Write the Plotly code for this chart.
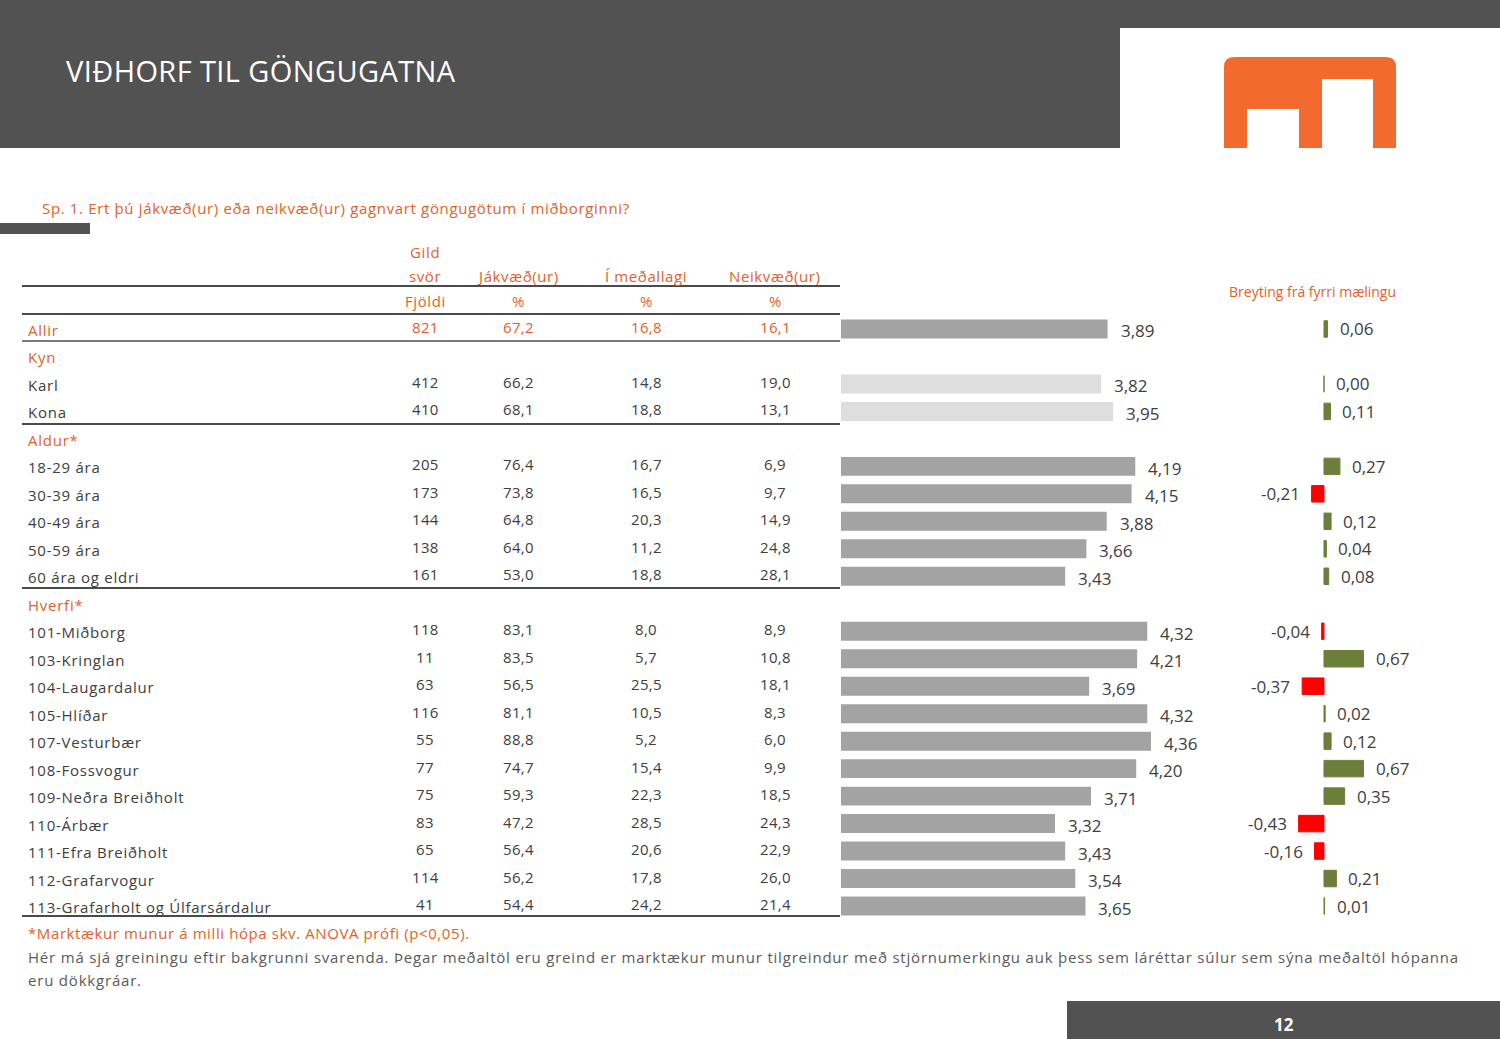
import plotly.graph_objects as go

# ---------------- data ----------------
rows = ["Allir", "Kyn", "Karl", "Kona", "Aldur*", "18-29 ára", "30-39 ára", "40-49 ára",
        "50-59 ára", "60 ára og eldri", "Hverfi*", "101-Miðborg", "103-Kringlan",
        "104-Laugardalur", "105-Hlíðar", "107-Vesturbær", "108-Fossvogur",
        "109-Neðra Breiðholt", "110-Árbær", "111-Efra Breiðholt", "112-Grafarvogur",
        "113-Grafarholt og Úlfarsárdalur"]
row_kind = ["total", "group", "ns", "ns", "group", "sig", "sig", "sig", "sig", "sig", "group",
            "sig", "sig", "sig", "sig", "sig", "sig", "sig", "sig", "sig", "sig", "sig"]
n_valid = [821, None, 412, 410, None, 205, 173, 144, 138, 161, None,
           118, 11, 63, 116, 55, 77, 75, 83, 65, 114, 41]
positive = [67.2, None, 66.2, 68.1, None, 76.4, 73.8, 64.8, 64.0, 53.0, None,
            83.1, 83.5, 56.5, 81.1, 88.8, 74.7, 59.3, 47.2, 56.4, 56.2, 54.4]
neutral = [16.8, None, 14.8, 18.8, None, 16.7, 16.5, 20.3, 11.2, 18.8, None,
           8.0, 5.7, 25.5, 10.5, 5.2, 15.4, 22.3, 28.5, 20.6, 17.8, 24.2]
negative = [16.1, None, 19.0, 13.1, None, 6.9, 9.7, 14.9, 24.8, 28.1, None,
            8.9, 10.8, 18.1, 8.3, 6.0, 9.9, 18.5, 24.3, 22.9, 26.0, 21.4]
mean = [3.89, None, 3.82, 3.95, None, 4.19, 4.15, 3.88, 3.66, 3.43, None,
        4.32, 4.21, 3.69, 4.32, 4.36, 4.20, 3.71, 3.32, 3.43, 3.54, 3.65]
change = [0.06, None, 0.00, 0.11, None, 0.27, -0.21, 0.12, 0.04, 0.08, None,
          -0.04, 0.67, -0.37, 0.02, 0.12, 0.67, 0.35, -0.43, -0.16, 0.21, 0.01]

col_headers_top = ["svör", "Jákvæð(ur)", "Í meðallagi", "Neikvæð(ur)"]
col_headers_unit = ["Fjöldi", "%", "%", "%"]

title = "VIÐHORF TIL GÖNGUGATNA"
question = "Sp. 1. Ert þú jákvæð(ur) eða neikvæð(ur) gagnvart göngugötum í miðborginni?"
change_title = "Breyting frá fyrri mælingu"
note1 = "*Marktækur munur á milli hópa skv. ANOVA prófi (p<0,05)."
note2 = ("Hér má sjá greiningu eftir bakgrunni svarenda. Þegar meðaltöl eru greind er marktækur "
         "munur tilgreindur með stjörnumerkingu auk þess sem láréttar súlur sem sýna meðaltöl hópanna")
note3 = "eru dökkgráar."
page_no = "12"

# ---------------- styles ----------------
W, H = 1500, 1039
FONT = "Open Sans"
ORANGE = "#E2622A"
LOGO = "#F26A2D"
DARKBG = "#525252"
TXT = "#404040"
BAR_DARK = "#A3A3A3"
BAR_LIGHT = "#DEDEDE"
GREEN = "#6B7F3A"
RED = "#FF0000"

idx = list(range(len(rows)))
bar_colors = [BAR_LIGHT if k == "ns" else BAR_DARK for k in row_kind]
chg_colors = [RED if (v is not None and v < 0) else GREEN for v in change]


def fmt(v, d):
    return f"{v:.{d}f}".replace(".", ",")


def sp(text, ls):
    return f'<span style="letter-spacing:{ls}px">{text}</span>' if ls else text


fig = go.Figure()
fig.add_trace(go.Bar(x=mean, y=idx, orientation="h", marker=dict(color=bar_colors, line_width=0),
                     width=0.69, xaxis="x", yaxis="y", hoverinfo="skip", showlegend=False))
fig.add_trace(go.Bar(x=change, y=idx, orientation="h",
                     marker=dict(color=chg_colors, line=dict(color=chg_colors, width=1)),
                     width=0.6, xaxis="x2", yaxis="y", hoverinfo="skip", showlegend=False))
fig.add_trace(go.Scatter(x=[], y=[], xaxis="x3", yaxis="y3", hoverinfo="skip", showlegend=False))

ann = []
shapes = []


def A(text, x, y, size=15, color=TXT, xanchor="center", xref="x3", yref="y3", ls=0, **kw):
    ann.append(dict(text=sp(text, ls), x=x, y=y, xref=xref, yref=yref, xanchor=xanchor,
                    yanchor="middle", showarrow=False,
                    font=dict(family=FONT, size=size, color=color), **kw))


def rect(x0, y0, x1, y1, color):
    shapes.append(dict(type="rect", xref="x3", yref="y3", x0=x0, y0=y0, x1=x1, y1=y1,
                       fillcolor=color, line_width=0, layer="above"))


def hline(y, x0=22, x1=840, color="#4A4A4A", width=2):
    shapes.append(dict(type="line", xref="x3", yref="y3", x0=x0, x1=x1, y0=y, y1=y,
                       line=dict(color=color, width=width)))


# header decoration
rect(0, 0, 1120, 148, DARKBG)
rect(0, 0, W, 28, DARKBG)
shapes.append(dict(type="path", xref="x3", yref="y3",
                   path="M 1224 148 L 1224 67 Q 1224 57 1234 57 L 1386 57 Q 1396 57 1396 67 L 1396 148 Z",
                   fillcolor=LOGO, line_width=0))
rect(1247, 109, 1299, 148, "white")
rect(1322, 79, 1373, 148, "white")
rect(0, 223, 90, 234, DARKBG)
rect(1067, 1001, W, H, DARKBG)

A(title, 64, 70, size=29, color="white", xanchor="left", ls=0.4)
A(question, 40, 208, size=15, color=ORANGE, xanchor="left", ls=0.65)
A(change_title, 1312, 291, size=14, color=ORANGE)

# table header
col_x = [425, 518, 646, 775]
A("Gild", col_x[0], 252, color=ORANGE, ls=0.7)
for cx, t in zip(col_x, col_headers_top):
    A(t, cx, 276, color=ORANGE, ls=0.6)
for cx, t in zip(col_x, col_headers_unit):
    A(t, cx, 301, color=ORANGE, ls=0.6)

hline(286)
hline(314)
hline(341, color="#7A7A7A")
hline(424)
hline(588)
hline(916)

# rows
for i, lab in enumerate(rows):
    c = ORANGE if row_kind[i] in ("total", "group") else TXT
    A(lab, 26, i, color=c, xanchor="left", yref="y", yshift=-1, ls=0.75)
    if n_valid[i] is not None:
        vals = [str(n_valid[i]), fmt(positive[i], 1), fmt(neutral[i], 1), fmt(negative[i], 1)]
        vc = ORANGE if row_kind[i] == "total" else TXT
        for cx, v in zip(col_x, vals):
            A(v, cx, i, color=vc, yref="y", yshift=2, ls=0.3)
    if mean[i] is not None:
        A(fmt(mean[i], 2), mean[i], i, size=17, xref="x", yref="y", xanchor="left",
          xshift=11, yshift=-2)
    if change[i] is not None:
        v = change[i]
        if v < 0:
            A(fmt(v, 2), v, i, size=17, xref="x2", yref="y", xanchor="right", xshift=-10)
        else:
            A(fmt(v, 2), v, i, size=17, xref="x2", yref="y", xanchor="left", xshift=10)

# notes
A(note1, 26, 933, color=ORANGE, xanchor="left", ls=0.6)
A(note2, 26, 957, color="#5A5A5A", xanchor="left", ls=0.8)
A(note3, 26, 980, color="#5A5A5A", xanchor="left", ls=0.8)
ann.append(dict(text="<b>" + page_no + "</b>", x=1284, y=1024, xref="x3", yref="y3",
                showarrow=False, font=dict(family=FONT, size=17, color="white")))

fig.update_layout(
    width=W, height=H, autosize=False,
    margin=dict(l=0, r=0, t=0, b=0, pad=0),
    paper_bgcolor="white", plot_bgcolor="rgba(0,0,0,0)",
    barmode="overlay",
    xaxis=dict(domain=[841 / W, 1210 / W], range=[1, 5], visible=False, anchor="y", fixedrange=True),
    yaxis=dict(domain=[1 - 933.5 / H, 1 - 301.5 / H], range=[22, -1], visible=False, anchor="x",
               fixedrange=True),
    xaxis2=dict(domain=[1265 / W, 1383 / W], range=[-1, 1], visible=False, anchor="y", fixedrange=True),
    xaxis3=dict(domain=[0, 1], range=[0, W], visible=False, anchor="y3", fixedrange=True),
    yaxis3=dict(domain=[0, 1], range=[H, 0], visible=False, anchor="x3", fixedrange=True),
    shapes=shapes,
    annotations=ann,
    showlegend=False,
)

fig.write_html("out.html", config={"displayModeBar": False, "staticPlot": True},
               post_script="document.body.style.margin='0';")
